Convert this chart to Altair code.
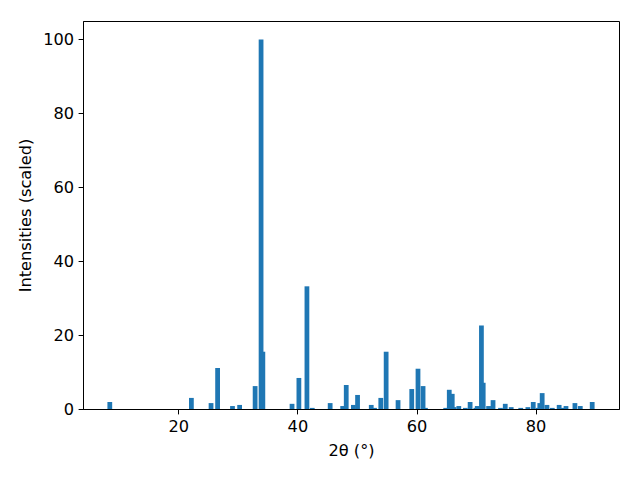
import altair as alt
import pandas as pd

two_theta = [8.5, 22.2, 25.5, 26.6, 29.1, 30.3, 32.9, 33.9, 34.2, 39.1,
             40.25, 41.6, 42.5, 45.5, 47.6, 48.2, 49.4, 50.1, 52.4, 52.95,
             54.0, 54.9, 56.9, 59.2, 60.25, 61.1, 61.5, 64.9, 65.5, 66.0,
             66.3, 67.1, 68.2, 69.0, 69.97, 70.2, 70.9, 71.2, 72.1, 72.85,
             74.1, 74.9, 75.9, 77.5, 78.7, 79.6, 80.4, 80.7, 81.1, 81.9,
             82.8, 83.95, 84.6, 85.1, 86.6, 87.5, 89.5]
intensity = [1.9, 3.0, 1.6, 11.1, 0.8, 1.1, 6.2, 100.0, 15.5, 1.4,
             8.4, 33.2, 0.3, 1.6, 0.8, 6.5, 1.1, 3.8, 1.1, 0.3,
             3.0, 15.5, 2.4, 5.4, 10.9, 6.2, 0.3, 0.3, 5.2, 4.1,
             0.5, 0.8, 0.3, 1.9, 0.3, 0.8, 22.6, 7.1, 0.8, 2.4,
             0.3, 1.4, 0.5, 0.3, 0.5, 1.9, 0.3, 1.6, 4.3, 1.1,
             0.3, 1.1, 0.3, 0.8, 1.6, 0.8, 1.9]
bar_width = 0.8

df = pd.DataFrame({"two_theta": two_theta, "intensity": intensity})

font = "DejaVu Sans"
fs = 16.2

chart = (
    alt.Chart(df)
    .transform_calculate(
        x0=f"datum.two_theta - {bar_width / 2}",
        x1=f"datum.two_theta + {bar_width / 2}",
    )
    .mark_bar(color="#1f77b4")
    .encode(
        x=alt.X(
            "x0:Q",
            scale=alt.Scale(domain=[4.0, 94.0], nice=False, zero=False),
            axis=alt.Axis(values=[20, 40, 60, 80], title="2θ (°)", format="d"),
        ),
        x2="x1:Q",
        y=alt.Y(
            "intensity:Q",
            scale=alt.Scale(domain=[0, 105], nice=False),
            axis=alt.Axis(values=[0, 20, 40, 60, 80, 100], title="Intensities (scaled)"),
        ),
        y2=alt.datum(0),
    )
    .properties(
        width=536,
        height=388,
        autosize=alt.AutoSizeParams(type="none"),
        padding={"left": 75, "top": 13, "right": 5, "bottom": 60},
    )
    .configure_view(stroke="black", strokeWidth=1)
    .configure_axis(
        grid=False,
        domain=True,
        domainColor="black",
        domainWidth=1,
        tickColor="black",
        tickSize=4.9,
        tickWidth=1,
        labelPadding=4.5,
        labelFont=font,
        labelFontSize=fs,
        labelColor="black",
        titleFont=font,
        titleFontSize=fs,
        titleFontWeight="normal",
        titleColor="black",
    )
    .configure_axisX(titlePadding=8)
    .configure_axisY(titlePadding=9)
)

chart.save("out.html", embed_options={"renderer": "svg", "actions": False})
